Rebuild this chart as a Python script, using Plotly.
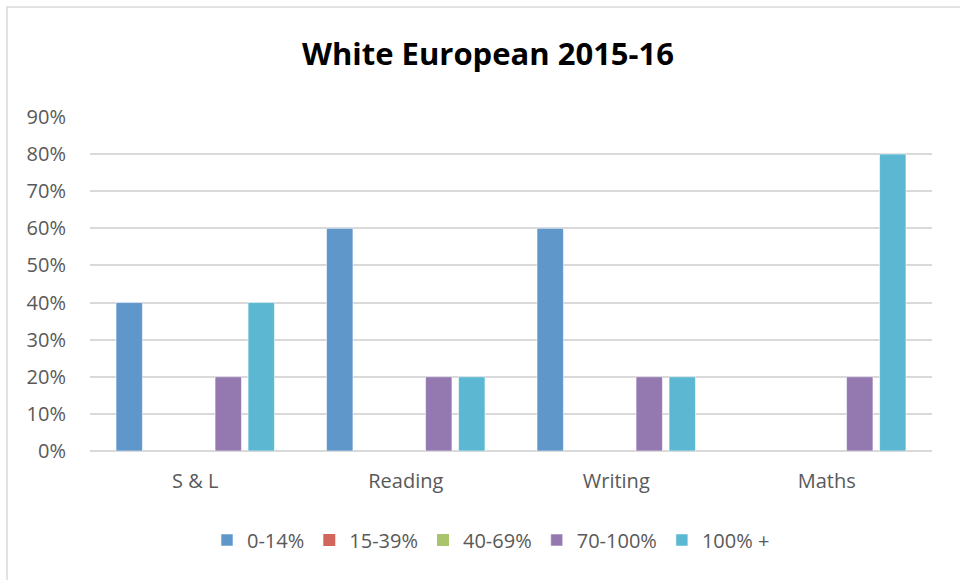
import plotly.graph_objects as go

# Subjects and attainment bands
subjects = ["S & L", "Reading", "Writing", "Maths"]
bands = ["0-14%", "15-39%", "40-69%", "70-100%", "100% +"]

# Share of pupils in each band, per subject (fractions)
band_0_14 = [0.40, 0.60, 0.60, 0.00]
band_15_39 = [0.00, 0.00, 0.00, 0.00]
band_40_69 = [0.00, 0.00, 0.00, 0.00]
band_70_100 = [0.20, 0.20, 0.20, 0.20]
band_100_plus = [0.40, 0.20, 0.20, 0.80]

series = [band_0_14, band_15_39, band_40_69, band_70_100, band_100_plus]
colors = ["#6097CB", "#D0665E", "#A9C46B", "#9479B0", "#5CB8D2"]

y_ticks = [i / 10 for i in range(10)]

W, H = 960, 580
ML, MR, MT, MB = 90, 28, 117, 129
FONT = "Open Sans, Lato, sans-serif"

fig = go.Figure()
for name, vals, col in zip(bands, series, colors):
    fig.add_trace(go.Bar(
        x=subjects, y=vals, name=name,
        marker=dict(color=col,
                    line=dict(color="rgba(255,255,255,0.55)",
                              width=[1 if v > 0 else 0 for v in vals])),
    ))

# outer chart frame, expressed in paper coordinates
pw, ph = W - ML - MR, H - MT - MB
def px_x(p):
    return (p - ML) / pw
def px_y(p):
    return (H - MB - p) / ph

fig.add_shape(type="rect", xref="paper", yref="paper",
              x0=px_x(7), x1=px_x(975), y0=px_y(595), y1=px_y(7),
              line=dict(color="#D9D9D9", width=1.5), layer="below")

fig.update_layout(
    width=W, height=H,
    margin=dict(l=ML, r=MR, t=MT, b=MB),
    paper_bgcolor="white", plot_bgcolor="white",
    font=dict(family=FONT, color="#595959", size=20),
    title=dict(text="<b>White European 2015-16</b>", xref="container", x=488 / W,
               xanchor="center", y=1 - 54 / H, yanchor="middle",
               font=dict(size=31, color="#000000", family=FONT)),
    barmode="group", bargap=0.216, bargroupgap=0.2,
    showlegend=True,
    legend=dict(orientation="h", x=px_x(491), xanchor="center", y=px_y(540), yanchor="middle",
                font=dict(size=20, color="#595959", family=FONT), itemwidth=30),
    xaxis=dict(showgrid=False, showline=False, ticks="", ticklabelstandoff=16,
               tickfont=dict(size=20, color="#595959", family=FONT)),
    yaxis=dict(range=[0, 0.9], tickvals=y_ticks, tickformat=".0%",
               showgrid=True, gridcolor="#D9D9D9", gridwidth=1.5,
               zeroline=True, zerolinecolor="#D9D9D9", zerolinewidth=1.5,
               showline=False, ticks="", ticklabelstandoff=23,
               tickfont=dict(size=20, color="#595959", family=FONT)),
)

fig.write_html("out.html")
